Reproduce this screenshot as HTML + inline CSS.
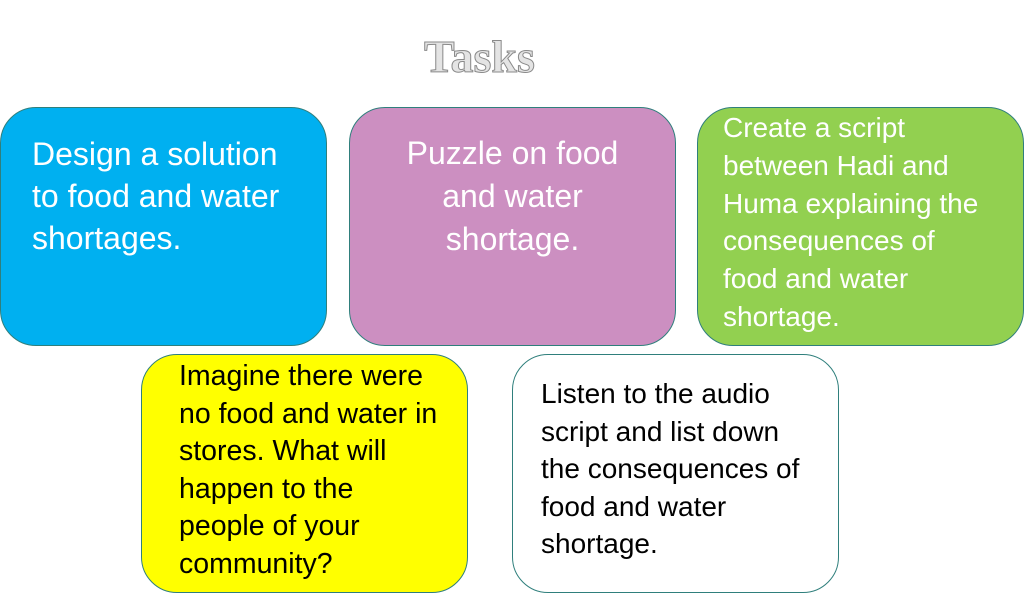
<!DOCTYPE html>
<html><head><meta charset="utf-8"><style>
body{margin:0;width:1024px;height:606px;background:#fff;position:relative;overflow:hidden;font-family:"Liberation Sans",sans-serif;}
.t{position:absolute;top:30px;left:0;width:960px;padding-left:424px;box-sizing:border-box;font-family:"Liberation Serif",serif;font-size:46px;font-weight:bold;color:#e4e4e4;-webkit-text-stroke:1px #8a8a8a;}
.b{position:absolute;box-sizing:border-box;border:1.5px solid #2f7f7c;border-radius:36px;width:327px;height:239px;color:#000;}
.b div{position:absolute;white-space:nowrap;}
</style></head><body>
<div class="t">Tasks</div>
<div class="b" style="left:0;top:107px;background:#00b0f0;color:#fff;font-size:32px;line-height:42px;"><div style="left:31px;top:25px;">Design a solution<br>to food and water<br>shortages.</div></div>
<div class="b" style="left:349px;top:107px;background:#cc8fc1;color:#fff;font-size:32px;line-height:43px;"><div style="left:0;right:0;top:24px;text-align:center;">Puzzle on food<br>and water<br>shortage.</div></div>
<div class="b" style="left:697px;top:107px;background:#92d050;color:#fff;font-size:28px;line-height:37.8px;"><div style="left:25px;top:1px;">Create a script<br>between Hadi and<br>Huma explaining the<br>consequences of<br>food and water<br>shortage.</div></div>
<div class="b" style="left:141px;top:354px;background:#ffff00;font-size:28.5px;line-height:37.6px;"><div style="left:37px;top:3px;">Imagine there were<br>no food and water in<br>stores. What will<br>happen to the<br>people of your<br>community?</div></div>
<div class="b" style="left:512px;top:354px;background:#fff;font-size:28px;line-height:37.6px;"><div style="left:28px;top:20px;">Listen to the audio<br>script and list down<br>the consequences of<br>food and water<br>shortage.</div></div>
</body></html>
